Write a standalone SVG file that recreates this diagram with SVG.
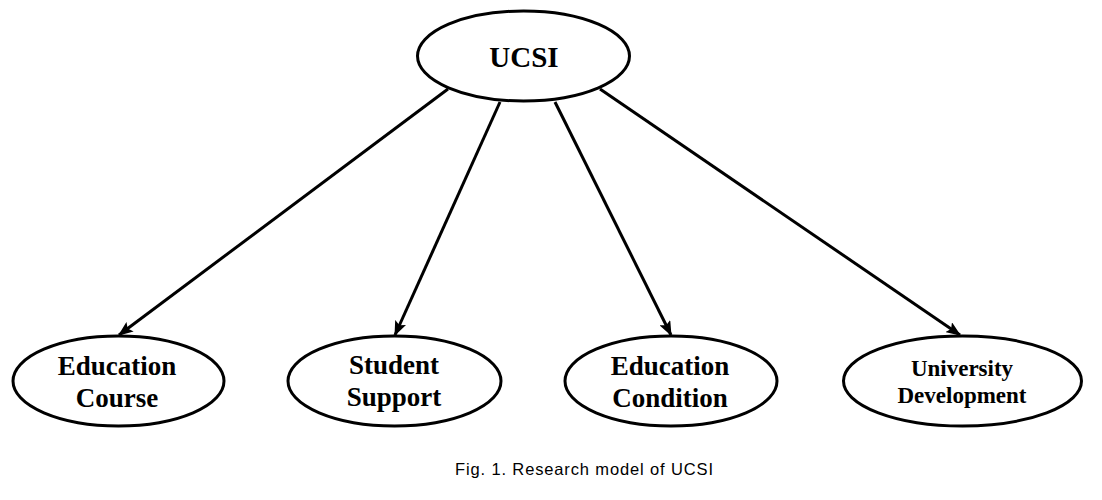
<svg xmlns="http://www.w3.org/2000/svg" width="1102" height="500" viewBox="0 0 1102 500">
<style>
.node ellipse{fill:#fff;stroke:#000;stroke-width:3}
.lbl{font-family:"Liberation Serif","Times New Roman",serif;font-weight:bold;fill:#000;text-anchor:middle}
.edge{stroke:#000;stroke-width:3;fill:none;marker-end:url(#ah)}
.cap{font-family:"Liberation Sans",Arial,sans-serif;font-size:16.5px;fill:#000}
</style>
<defs>
<marker id="ah" markerWidth="5" markerHeight="4" refX="4.6" refY="2" orient="auto" markerUnits="strokeWidth">
<path d="M0,0 L5,2 L0,4 L1,2 Z" fill="#000"/>
</marker>
</defs>
<rect width="1102" height="500" fill="#fff"/>
<g id="connectors">
<line class="edge" x1="448" y1="89" x2="119" y2="335"/>
<line class="edge" x1="500" y1="102" x2="395" y2="335"/>
<line class="edge" x1="555" y1="102" x2="671" y2="335"/>
<line class="edge" x1="600" y1="89" x2="960" y2="335"/>
</g>
<g id="ucsi" class="node">
<ellipse cx="523.5" cy="56" rx="106" ry="45"/>
<text class="lbl" x="524" y="67" font-size="29">UCSI</text>
</g>
<g id="education-course" class="node">
<ellipse cx="118.5" cy="381" rx="105.5" ry="45"/>
<text class="lbl" x="117" y="375" font-size="27">Education</text>
<text class="lbl" x="117" y="407" font-size="27">Course</text>
</g>
<g id="student-support" class="node">
<ellipse cx="394.5" cy="381" rx="106.5" ry="45"/>
<text class="lbl" x="394" y="374" font-size="27">Student</text>
<text class="lbl" x="394" y="406" font-size="27">Support</text>
</g>
<g id="education-condition" class="node">
<ellipse cx="671" cy="381" rx="106" ry="45"/>
<text class="lbl" x="670" y="375" font-size="27">Education</text>
<text class="lbl" x="670" y="407" font-size="27">Condition</text>
</g>
<g id="university-development" class="node">
<ellipse cx="962.5" cy="381" rx="119" ry="45"/>
<text class="lbl" x="962" y="376" font-size="23">University</text>
<text class="lbl" x="962" y="403" font-size="23">Development</text>
</g>
<text class="cap" x="455" y="475" textLength="258" lengthAdjust="spacing">Fig. 1. Research model of UCSI</text>
</svg>
